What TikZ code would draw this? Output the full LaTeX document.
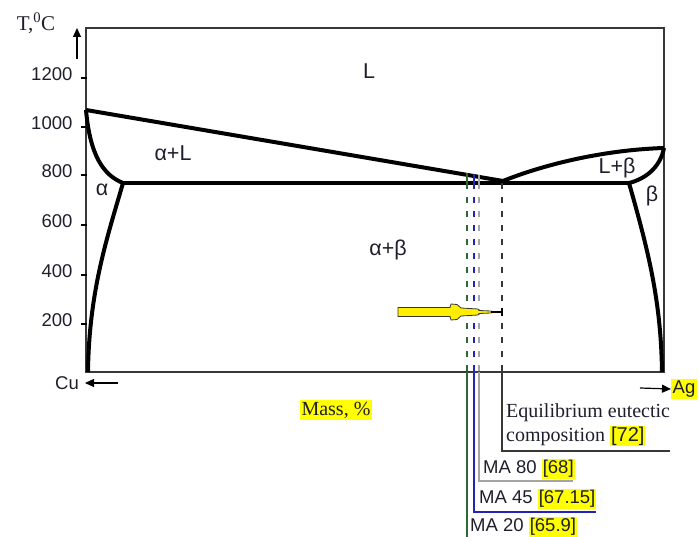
\documentclass[tikz,border=0pt]{standalone}
\usepackage{fontspec}
\setmainfont{Liberation Serif}
\setsansfont{Liberation Sans}
\usetikzlibrary{arrows.meta}

\definecolor{txt}{RGB}{30,30,45}
\definecolor{hl}{RGB}{255,255,0}
\definecolor{magreen}{RGB}{45,105,55}
\definecolor{mablue}{RGB}{35,35,185}
\definecolor{magray}{RGB}{165,165,165}
\definecolor{eugray}{RGB}{55,55,55}
\definecolor{pointer}{RGB}{255,238,0}

\tikzset{
  phase/.style={font=\sffamily\fontsize{21.5}{23}\selectfont, text=txt, inner sep=0pt},
  tlabel/.style={font=\sffamily\fontsize{18.5}{20}\selectfont, text=txt, anchor=east, inner sep=0pt},
  sanstext/.style={font=\sffamily\fontsize{18.5}{20}\selectfont, text=txt, anchor=west, inner sep=0pt},
  seriftext/.style={font=\fontsize{20}{22}\selectfont, text=txt, inner sep=0pt},
  hilite/.style={fill=hl, inner sep=1.5pt},
  boundary/.style={line width=4pt, line join=round},
  compline/.style={line width=1.3pt},
  dashpart/.style={compline, dash pattern=on 6pt off 8pt},
  axisarrow/.style={line width=1.2pt, -{Triangle[length=9pt,width=8pt]}},
}
\setlength{\fboxsep}{1pt}

\begin{document}
\begin{tikzpicture}[x=1pt,y=-1pt]
  \useasboundingbox (0,0) rectangle (699,537);

  % frame and temperature axis
  \draw[line width=1.3pt,color=eugray] (86,28) rectangle (664,372);
  \foreach \y/\t in {78/1200,127/1000,175/800,225/600,275/400,324/200}
    \draw[line width=1.2pt] (81,\y) -- (87,\y) node[tlabel] at (73,\y-4) {\t};
  \coordinate (tfoot) at (77,59);
  \coordinate (thead) at (77,28);
  \draw[axisarrow] (tfoot) -- (thead);
  \node[seriftext,font=\fontsize{21}{23}\selectfont] (tunit) at (36,23) {T,\textsuperscript{0}C};

  % phase boundaries
  \coordinate (cuMelt) at (86,110);
  \coordinate (agMelt) at (664,148);
  \coordinate (eut) at (503,181);
  \coordinate (alphaEnd) at (123,183);
  \coordinate (betaEnd) at (629,183);
  \draw[boundary] (cuMelt) -- (eut);
  \draw[boundary] (eut) .. controls (540,166) and (600,150) .. (agMelt);
  \draw[boundary] (alphaEnd) -- (betaEnd);
  \draw[boundary] (cuMelt) .. controls (90,155) and (103,175) .. (alphaEnd);
  \draw[boundary] (alphaEnd) .. controls (108,235) and (89,290) .. (88,372);
  \draw[boundary] (agMelt) .. controls (660,168) and (645,179) .. (betaEnd);
  \draw[boundary] (betaEnd) .. controls (648,250) and (661,300) .. (662,372);

  % compositions
  \draw[compline,magreen] (467,173) -- (467,183);
  \draw[dashpart,magreen] (467,183) -- (467,372);
  \draw[compline,magreen] (467,372) -- (467,537);
  \draw[compline,mablue] (474,174) -- (474,183);
  \draw[dashpart,mablue] (474,183) -- (474,372);
  \draw[compline,mablue] (474,372) -- (474,512) -- (596,512);
  \draw[compline,magray] (479,175) -- (479,183);
  \draw[dashpart,magray] (479,183) -- (479,372);
  \draw[compline,magray] (479,372) -- (479,481) -- (573,481);
  \draw[dashpart,eugray] (502,183) -- (502,372);
  \draw[compline,eugray] (502,372) -- (502,451) -- (670,451);

  % pointer
  \draw[line width=0.8pt,color=eugray,fill=pointer]
    (398,307.5) -- (450,307.5) -- (451,304) -- (457,304.5) -- (461,308) -- (478,309)
    -- (479,310.5) -- (491,311) -- (492,312) -- (491,313) -- (479,313.5) -- (478,315)
    -- (461,316) -- (457,319.5) -- (451,320) -- (450,316.5) -- (398,316.5) -- cycle;
  \draw[line width=1.6pt] (491,312) -- (502,312);
  \draw[line width=1.3pt] (502,308) -- (502,316);

  % phase labels
  \node[phase] (liq) at (369,71) {L};
  \node[phase] (alphaliq) at (173,153) {α+L};
  \node[phase] (alpha) at (102,190) {α};
  \node[phase] (alphabeta) at (388,250) {α+β};
  \node[phase] (liqbeta) at (617,168) {L+β};
  \node[phase] (beta) at (652,196) {β};

  % component ends
  \node[phase,font=\sffamily\fontsize{18.5}{20}\selectfont] (cu) at (67,383) {Cu};
  \coordinate (cutail) at (118,383);
  \coordinate (cuhead) at (85,383);
  \draw[axisarrow] (cutail) -- (cuhead);
  \node[phase,hilite,font=\sffamily\fontsize{18.5}{20}\selectfont] (ag) at (684,389) {Ag};
  \coordinate (agtail) at (640,388);
  \draw[axisarrow] (agtail) -- (ag.west);

  \node[seriftext,hilite] (mass) at (336,410) {Mass, \%};

  % composition labels
  \node[seriftext,anchor=west] (eq1) at (506,413) {Equilibrium eutectic};
  \node[seriftext,anchor=west] (eq2) at (506,436) {composition \colorbox{hl}{\sffamily [72]}};
  \node[sanstext] (ma80) at (483,469) {MA 80 \colorbox{hl}{[68]}};
  \node[sanstext] (ma45) at (479,499) {MA 45 \colorbox{hl}{[67.15]}};
  \node[sanstext] (ma20) at (470,527) {MA 20 \colorbox{hl}{[65.9]}};
\end{tikzpicture}
\end{document}
